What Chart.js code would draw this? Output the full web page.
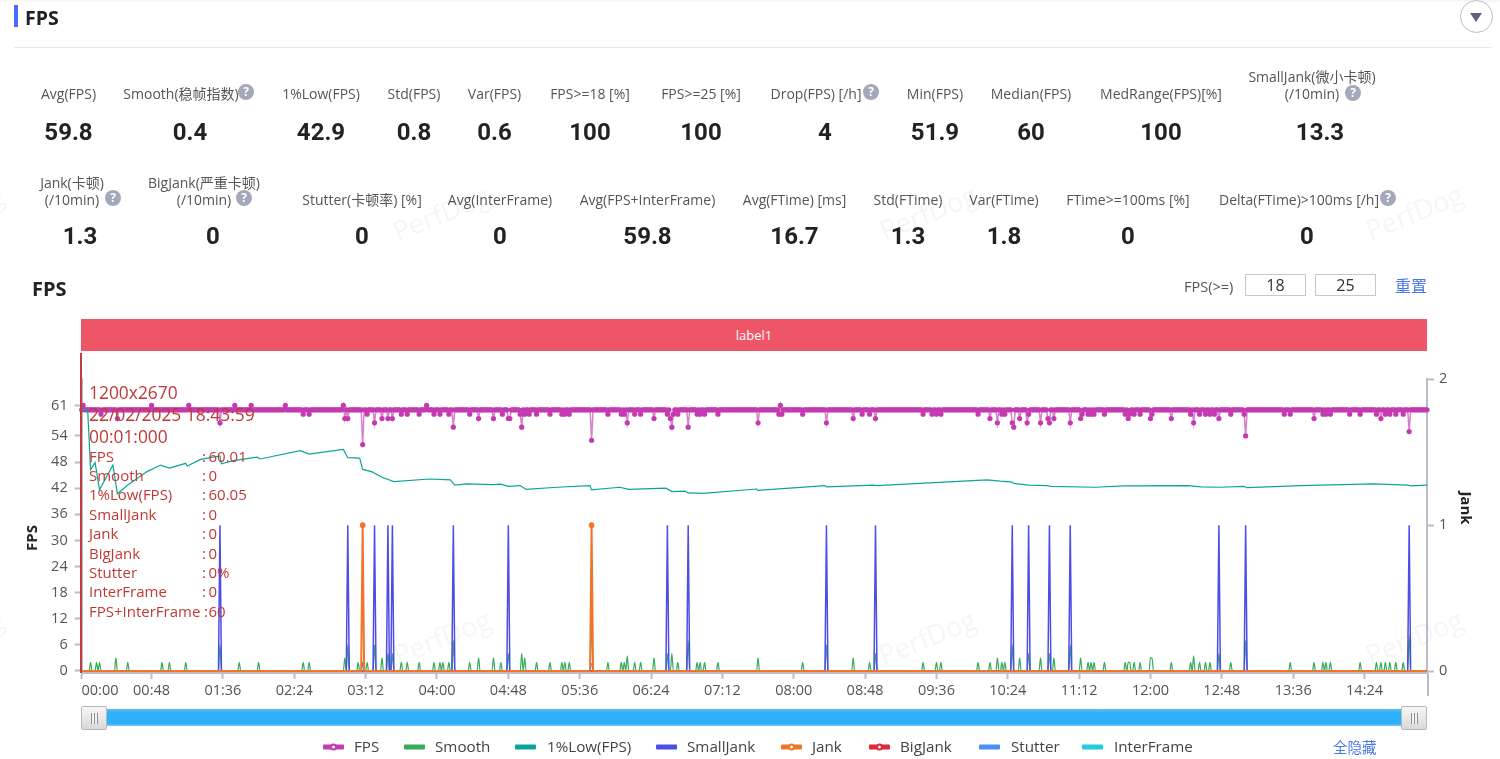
<!DOCTYPE html>
<html>
<head>
<meta charset="utf-8">
<title>FPS</title>
<script src="https://cdn.jsdelivr.net/npm/chart.js@4/dist/chart.umd.min.js"></script>
<style>
html, body { margin: 0; padding: 0; background: #fff; }
body { position: relative; width: 1500px; height: 759px; overflow: hidden; font-family: "Open Sans", "Noto Sans CJK SC", sans-serif; color: #555; }
#fpsChart { position: absolute; left: 0; top: 0; }
.abs { position: absolute; white-space: nowrap; }
.mid { transform: translate(-50%, -50%); text-align: center; }
.statLabel { font-size: 14px; line-height: 17px; color: #555; }
.statValue { font-size: 24px; font-weight: 700; color: #222; font-family: Roboto, sans-serif; }
.help { width: 16px; height: 16px; border-radius: 50%; background: #a4a9ba; color: #fff; font-size: 12px; font-weight: 700; line-height: 16px; text-align: center; transform: translate(-50%, -50%); }
.mark { font-size: 27px; color: rgba(60, 60, 70, 0.05); transform: translate(-50%, -50%) rotate(-22deg); }
.box { border: 1px solid #c8c8c8; width: 59px; height: 20px; line-height: 20px; text-align: center; font-size: 16px; color: #333; }
.tipRow { font-size: 15px; color: #bf3a36; line-height: 19px; }
.tipHead { font-size: 17.4px; color: #bf3a36; line-height: 22px; }
.legendText { font-size: 15.2px; color: #444; transform: translateY(-50%); }
.swatch { height: 5px; width: 21px; transform: translateY(-50%); border-radius: 1px; }
.swatch i { position: absolute; left: 7px; top: -1px; width: 3px; height: 3px; border: 2px solid; border-radius: 50%; background: #fff; }
</style>
</head>
<body>
<canvas id="fpsChart" width="1500" height="759"></canvas>
<div id="page"></div>
<script>
// x is the sample index (one sample per second, 0 = 00:01)
var sampleCount = 906;
var tickSeconds = [0, 12.3, 47, 95, 143, 191, 239, 287, 335, 383, 431, 479, 527, 575, 623, 671, 719, 767, 815, 863];
var tickLabels = ['', '00:00', '00:48', '01:36', '02:24', '03:12', '04:00', '04:48', '05:36', '06:24', '07:12', '08:00', '08:48', '09:36', '10:24', '11:12', '12:00', '12:48', '13:36', '14:24'];
var fpsTicks = [0, 6, 12, 18, 24, 30, 36, 42, 48, 54, 61];
var jankTicks = [0, 1, 2];

var fpsChangeAt = [1, 47, 72, 103, 114, 137, 176, 232, 470,
  13, 24, 93, 149, 153, 177, 179, 189, 192, 197, 202, 206, 209, 215, 219, 227, 237, 241, 247, 250, 261, 267, 277,
  283, 287, 288, 295, 296, 298, 301, 306, 315, 323, 325, 328, 343, 354, 363, 365, 367, 372, 376, 385,
  394, 396, 397, 398, 401, 408, 414, 416, 419, 428, 455, 469, 471, 485, 501, 519, 525, 530, 534, 566, 572, 575, 578, 603, 611, 616,
  619, 621, 626, 627, 631, 636, 637, 645, 650, 651, 654, 665, 672, 673, 677, 679, 681, 688,
  702, 704, 705, 708, 712, 719, 720, 733, 746, 748, 752, 756, 759, 762, 765, 773, 782, 783,
  809, 813, 829, 835, 837, 840, 853, 860, 871, 874, 877, 880, 884, 889, 893];
var fpsChangeTo = [61, 61, 61, 61, 61, 61, 61, 61, 61,
  59, 58, 57, 59, 59, 58, 58, 52, 59, 57, 58, 58, 58, 59, 59, 59, 59, 59, 59, 56, 59, 58, 58,
  59, 58, 58, 59, 56, 59, 59, 59, 59, 59, 59, 59, 53, 59, 59, 59, 57, 59, 59, 58,
  59, 58, 56, 59, 59, 56, 59, 59, 59, 59, 57, 59, 59, 59, 57, 58, 59, 59, 58, 59, 59, 59, 59, 59, 58, 57,
  59, 59, 57, 56, 58, 57, 59, 57, 58, 57, 58, 57, 58, 59, 59, 59, 59, 59,
  59, 58, 59, 59, 59, 58, 59, 58, 59, 57, 59, 59, 59, 59, 58, 59, 59, 54,
  59, 59, 58, 59, 59, 59, 59, 59, 59, 58, 59, 59, 59, 59, 55];

var smoothAt = [6, 10, 12, 23, 31, 54, 59, 70, 93, 106, 119, 149, 153, 177, 179, 186, 189, 192, 197, 202, 206, 209, 215, 219, 227, 237, 241, 243, 247, 250, 261, 267, 277,
  282, 287, 296, 298, 306, 315, 323, 325, 328, 343, 354, 363, 365, 367, 372, 376, 385, 394, 397, 401, 408, 414, 416, 419, 428, 455, 485, 501, 519, 530, 534, 566, 575, 578, 603, 611, 616,
  619, 621, 626, 631, 637, 645, 651, 654, 665, 672, 677, 679, 681, 688, 702, 704, 705, 708, 712, 719, 720, 733, 746, 748, 752, 756, 759, 765, 773, 783, 813, 829, 835, 837, 840, 860, 871, 874, 877, 880, 884, 889, 893];
var smoothVal = [2, 2, 2, 3, 2, 2, 2, 2, 6, 2, 2, 2, 2, 3, 6, 2, 2, 2, 6, 3, 4, 4, 2, 2, 2, 2, 2, 2, 2, 7, 2, 3, 3,
  2, 4, 4, 3, 2, 2, 2, 2, 2, 12, 2, 2, 2, 3.5, 2, 2, 3, 4, 4, 2, 7, 2, 2, 2, 2, 3, 2, 6, 3, 2, 4, 2, 2, 2, 2, 2, 3,
  2, 2, 6, 3, 4, 3, 4, 3, 6, 3, 2, 2, 2, 2, 2, 2, 2, 2, 2, 3, 3, 2, 2, 3.5, 2, 2, 2, 4, 2, 7, 2, 2, 2, 2, 2, 2, 2, 2, 2, 2, 2, 2, 8];

var lowAt = [0, 4, 6, 9, 12, 21, 24, 31, 44, 53, 59, 70, 71, 80, 93, 94, 102, 118, 120, 147, 153, 176, 179, 187, 189, 195, 202, 210, 234, 248, 251, 259, 277,
  282, 287, 295, 299, 320, 342, 343, 362, 368, 393, 397, 406, 408, 418, 454, 455, 500, 501, 533, 535, 609, 618,
  626, 627, 637, 649, 652, 682, 701, 744, 753, 766, 782, 784, 820, 869, 892, 894, 905];
var lowVal = [60, 60, 46.2, 47.9, 41.6, 47.3, 40.7, 42.7, 45.8, 47.3, 46.6, 47.7, 47.1, 48.6, 49.4, 47.6, 48.3, 49.1, 48.7, 50.6, 49.8, 50.9, 49, 48.9, 46.3, 45.8, 44.5, 43.5, 44.1, 43.9, 42.7, 43, 42.8,
  42.9, 42.4, 42.6, 41.7, 42.2, 42.6, 41.6, 42.2, 41.7, 42, 41.2, 41.3, 40.9, 40.8, 41.8, 41.5, 42.6, 42.3, 42.7, 42.6, 43.9, 43.6,
  43.4, 43.1, 42.7, 42.6, 42.4, 42.2, 42.5, 42.6, 42.3, 42.2, 42.4, 42.1, 42.6, 43, 42.7, 42.5, 42.7];

var smallJankAt = [93, 179, 197, 206, 209, 250, 287, 394, 408, 501, 534, 626, 637, 651, 665, 765, 783, 893];
var jankAt = [189, 343];
var stutterAt = [189, 343];
var stutterVal = [1.8, 1.8];

var seriesNames = ['FPS', 'Smooth', '1%Low(FPS)', 'SmallJank', 'Jank', 'BigJank', 'Stutter', 'InterFrame'];
var seriesColors = ['#c43ab0', '#35ad5b', '#0ba597', '#4d4de8', '#f0742a', '#e0283c', '#4a90f0', '#22ccdd'];

var statRow1 = ['Avg(FPS)', 'Smooth(稳帧指数)', '1%Low(FPS)', 'Std(FPS)', 'Var(FPS)', 'FPS>=18 [%]', 'FPS>=25 [%]', 'Drop(FPS) [/h]', 'Min(FPS)', 'Median(FPS)', 'MedRange(FPS)[%]', 'SmallJank(微小卡顿)<br>(/10min)'];
var valueRow1 = ['59.8', '0.4', '42.9', '0.8', '0.6', '100', '100', '4', '51.9', '60', '100', '13.3'];
var statRow2 = ['Jank(卡顿)<br>(/10min)', 'BigJank(严重卡顿)<br>(/10min)', 'Stutter(卡顿率) [%]', 'Avg(InterFrame)', 'Avg(FPS+InterFrame)', 'Avg(FTime) [ms]', 'Std(FTime)', 'Var(FTime)', 'FTime>=100ms [%]', 'Delta(FTime)>100ms [/h]'];
var valueRow2 = ['1.3', '0', '0', '0', '59.8', '16.7', '1.3', '1.8', '0', '0'];
var tipNames = ['FPS', 'Smooth', '1%Low(FPS)', 'SmallJank', 'Jank', 'BigJank', 'Stutter', 'InterFrame', 'FPS+InterFrame'];
var tipValues = ['60.01', '0', '60.05', '0', '0', '0', '0%', '0', '60'];

// page layout
var labelX1 = [68.5, 181, 321, 414, 494.5, 590, 701, 816, 935, 1031, 1161, 1312];
var valueX1 = [68.5, 190, 321, 414, 494.5, 590, 701, 825, 935, 1031, 1161, 1320];
var labelX2 = [72, 204, 362, 500, 647.5, 794.5, 908, 1004, 1128, 1299];
var valueX2 = [80, 213, 362, 500, 647.5, 794.5, 908, 1004, 1128, 1307];
var helpSpots = [[246, 92], [871, 92], [1353, 93], [113, 198], [244, 198], [1388, 198]];
var markSpots = [[441, 213], [928, 212], [1414, 212], [442, 637], [927, 637], [1414, 637], [-45, 213], [-45, 637]];
var legendSpots = [[323, 354], [404, 435], [515, 547], [656, 687], [781, 812], [869, 900], [979, 1011], [1082, 1114]];

var page = document.getElementById('page');
function put(cls, x, y, html, css) {
  var d = document.createElement('div');
  d.className = 'abs ' + cls;
  d.style.left = x + 'px';
  d.style.top = y + 'px';
  d.innerHTML = html;
  if (css) d.style.cssText += css;
  page.appendChild(d);
  return d;
}

markSpots.forEach(function (m) { put('mark', m[0], m[1], 'PerfDog'); });
// header
put('', 0, 0, '', 'width:1500px;height:3px;background:linear-gradient(#f3f4f8,#fff);');
put('', 14, 5, '', 'width:4px;height:22px;background:#4a6cf7;');
put('', 25, 17, 'FPS', 'font-size:19.5px;font-weight:700;color:#222;transform:translateY(-50%);');
put('', 14, 47, '', 'width:1478px;height:1px;background:#e8e8ea;');
put('', 1460, 0, '', 'width:31px;height:31px;border:1px solid #b9bcc6;border-radius:50%;background:#fff;');
put('', 1470, 13, '', 'width:0;height:0;border-left:6px solid transparent;border-right:6px solid transparent;border-top:9px solid #5c6478;');
// stats
statRow1.forEach(function (s, i) {
  var y = s.indexOf('<br>') >= 0 ? 84.5 : 93;
  put('statLabel mid', labelX1[i], y, s);
  put('statValue mid', valueX1[i], 132, valueRow1[i]);
});
statRow2.forEach(function (s, i) {
  var y = s.indexOf('<br>') >= 0 ? 190.5 : 199;
  put('statLabel mid', labelX2[i], y, s);
  put('statValue mid', valueX2[i], 236, valueRow2[i]);
});
helpSpots.forEach(function (h) { put('help', h[0], h[1], '?'); });
// chart heading and thresholds
put('', 32, 288, 'FPS', 'font-size:20px;font-weight:700;color:#222;transform:translateY(-50%);');
put('', 1184, 286, 'FPS(>=)', 'font-size:14.5px;color:#555;transform:translateY(-50%);');
put('box', 1245, 274, '18');
put('box', 1315, 274, '25');
put('', 1395, 285, '重置', 'font-size:16px;color:#4a78e8;transform:translateY(-50%);');
// label band and axis titles
put('', 81, 319, 'label1', 'width:1346px;height:32px;line-height:32px;background:#ee5566;color:#fff;text-align:center;font-size:13px;');
put('mid', 31, 538, 'FPS', 'font-size:15px;font-weight:700;color:#222;transform:translate(-50%,-50%) rotate(-90deg);');
put('mid', 1467, 508, 'Jank', 'font-size:15px;font-weight:700;color:#222;transform:translate(-50%,-50%) rotate(90deg);');
put('', 1427, 673, '', 'width:2px;height:23px;background:#b9bdc9;');
// tooltip and cursor
put('', 80, 353, '', 'width:2px;height:320px;background:#c23b40;');
['1200x2670', '22/02/2025 18:43:59', '00:01:000'].forEach(function (t, i) {
  put('tipHead', 89, 381 + i * 22, t);
});
tipNames.forEach(function (t, i) {
  var y = 446.5 + i * 19.4;
  put('tipRow', 89, y, t);
  put('tipRow', i == 8 ? 204 : 202, y, ':');
  put('tipRow', 208.5, y, tipValues[i]);
});
// slider
put('', 105, 709, '', 'width:1296px;height:17px;background:linear-gradient(#63bdf0 0,#2fb0fa 22%,#2fb0fa 85%,#7cc8f5 100%);');
[81, 1401].forEach(function (x) {
  put('', x, 706, '<span style="display:block;margin:6px auto 0;width:7px;height:11px;background:repeating-linear-gradient(90deg,#8a8e99 0,#8a8e99 1px,#f2f2f2 1px,#f2f2f2 3px);"></span>', 'width:24px;height:22px;border:1px solid #b8b8b8;border-radius:2px;background:linear-gradient(#f6f6f6,#d9d9d9);');
});
// legend
seriesNames.forEach(function (n, i) {
  var dot = (i == 0 || i == 4 || i == 5) ? '<i style="border-color:' + seriesColors[i] + '"></i>' : '';
  put('swatch', legendSpots[i][0], 747, dot, 'background:' + seriesColors[i] + ';');
  put('legendText', legendSpots[i][1], 746, n);
});
put('', 1333, 746, '全隐藏', 'font-size:14.5px;color:#4a78e8;transform:translateY(-50%);');

// one value per sample: what the series sits at, with the samples that differ
function perSample(rest, at, val) {
  var out = [];
  for (var i = 0; i < sampleCount; i++) out.push({ x: i, y: rest });
  at.forEach(function (s, k) { out[s].y = val[k]; });
  return out;
}
function pairs(at, val) {
  return at.map(function (s, k) { return { x: s, y: val[k] }; });
}
function ones(at) { return at.map(function () { return 1; }); }

var datasets = [
  { data: perSample(60, fpsChangeAt, fpsChangeTo), yAxisID: 'y', borderWidth: 1.5, pointRadius: 2.6, order: 8, i: 0 },
  { data: perSample(0, smoothAt, smoothVal), yAxisID: 'y', borderWidth: 1.2, pointRadius: 0, order: 6, i: 1, cubicInterpolationMode: 'monotone' },
  { data: pairs(lowAt, lowVal), yAxisID: 'y', borderWidth: 1.2, pointRadius: 0, order: 7, i: 2 },
  { data: perSample(0, smallJankAt, ones(smallJankAt)), yAxisID: 'y1', borderWidth: 1.5, pointRadius: 0, order: 3, i: 3 },
  { data: perSample(0, jankAt, ones(jankAt)), yAxisID: 'y1', borderWidth: 2, order: 0, i: 4,
    pointRadius: function (c) { return c.raw && c.raw.y > 0 ? 2.8 : 0; } },
  { data: perSample(0, [], []), yAxisID: 'y1', borderWidth: 0.8, pointRadius: 0, order: 4, i: 5 },
  { data: perSample(0, stutterAt, stutterVal), yAxisID: 'y', borderWidth: 0.8, pointRadius: 0, order: 2, i: 6 },
  { data: perSample(0, [], []), yAxisID: 'y', borderWidth: 0.8, pointRadius: 0, order: 5, i: 7 }
];
datasets.forEach(function (d) {
  d.label = seriesNames[d.i];
  d.borderColor = seriesColors[d.i];
  d.backgroundColor = seriesColors[d.i];
  d.pointBorderWidth = 0;
  d.pointHoverRadius = 0;
  d.clip = false;
  d.spanGaps = false;
});
datasets[0].borderColor = 'rgba(196,58,176,0.65)';

var tickFont = { family: '"Open Sans", sans-serif', size: 14.5 };
var axisGray = '#b9bdc9';

new Chart(document.getElementById('fpsChart'), {
  type: 'line',
  data: { datasets: datasets },
  options: {
    responsive: false,
    animation: false,
    events: [],
    parsing: { xAxisKey: 'x', yAxisKey: 'y' },
    layout: { padding: { left: 0, right: 0, top: 379.3, bottom: 0 } },
    plugins: { legend: { display: false }, tooltip: { enabled: false } },
    scales: {
      x: {
        type: 'linear', min: 0, max: 905,
        afterFit: function (s) { s.height = 86; },
        afterBuildTicks: function (s) { s.ticks = tickSeconds.map(function (v) { return { value: v }; }); },
        grid: { drawOnChartArea: false, tickLength: 6, tickWidth: 2,
          tickColor: function (c) { return c.index == 1 ? 'rgba(0,0,0,0)' : axisGray; } },
        border: { color: axisGray, width: 2 },
        ticks: { autoSkip: false, maxRotation: 0, font: tickFont, color: '#555', padding: 3,
          callback: function (v, i) { return tickLabels[i]; } }
      },
      y: {
        position: 'left', min: -0.46, max: 67,
        afterFit: function (s) { s.width = 81.7; },
        afterBuildTicks: function (s) { s.ticks = fpsTicks.map(function (v) { return { value: v }; }); },
        grid: { drawOnChartArea: false, tickLength: 7, tickWidth: 2, tickColor: axisGray },
        border: { color: axisGray, width: 2 },
        ticks: { font: tickFont, color: '#555', padding: 7 }
      },
      y1: {
        position: 'right', min: -0.0137, max: 2,
        afterFit: function (s) { s.width = 73; },
        afterBuildTicks: function (s) { s.ticks = jankTicks.map(function (v) { return { value: v }; }); },
        grid: { drawOnChartArea: false, tickLength: 7, tickWidth: 2, tickColor: axisGray },
        border: { color: axisGray, width: 2 },
        ticks: { font: tickFont, color: '#555', padding: 5 }
      }
    }
  }
});
</script>
</body>
</html>
